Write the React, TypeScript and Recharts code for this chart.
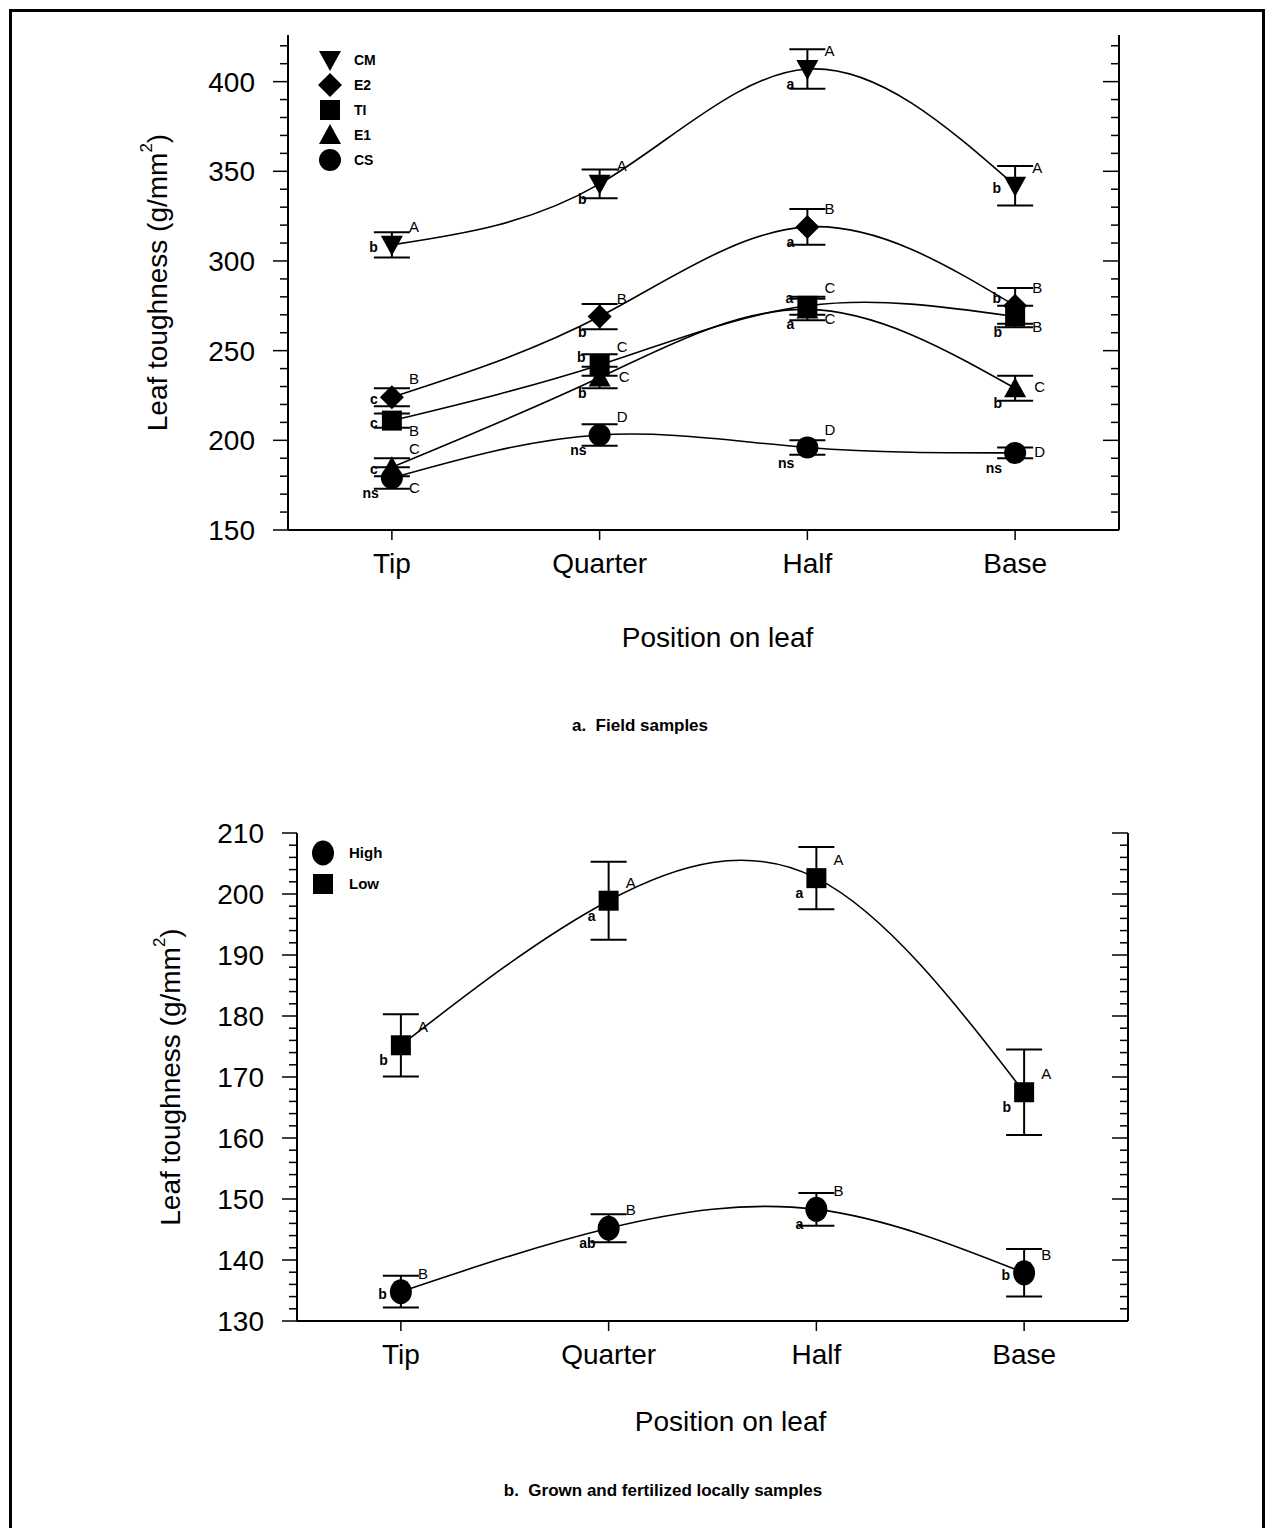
import { LineChart, Line, XAxis, YAxis, ErrorBar, Legend } from "recharts";

const positions = ["Tip", "Quarter", "Half", "Base"];

// a. field samples
const cmMean = [309, 343, 407, 342];
const cmErr = [7, 8, 11, 11];
const cmRank = ["b", "b", "a", "b"];
const cmGroup = ["A", "A", "A", "A"];

const e2Mean = [224, 269, 319, 275];
const e2Err = [5, 7, 10, 10];
const e2Rank = ["c", "b", "a", "b"];
const e2Group = ["B", "B", "B", "B"];

const tiMean = [211, 242, 275, 269];
const tiErr = [4, 6, 5, 6];
const tiRank = ["c", "b", "a", "b"];
const tiGroup = ["B", "C", "C", "B"];

const e1Mean = [185, 235, 273, 229];
const e1Err = [5, 6, 6, 7];
const e1Rank = ["c", "b", "a", "b"];
const e1Group = ["C", "C", "C", "C"];

const csMean = [179, 203, 196, 193];
const csErr = [6, 6, 4, 3];
const csRank = ["ns", "ns", "ns", "ns"];
const csGroup = ["C", "D", "D", "D"];

// b. grown and fertilized locally
const highMean = [134.8, 145.2, 148.3, 137.9];
const highErr = [2.6, 2.3, 2.7, 3.9];
const highRank = ["b", "ab", "a", "b"];
const highGroup = ["B", "B", "B", "B"];

const lowMean = [175.2, 198.9, 202.6, 167.5];
const lowErr = [5.1, 6.4, 5.1, 7];
const lowRank = ["b", "a", "a", "b"];
const lowGroup = ["A", "A", "A", "A"];

const ticksA = [150, 160, 170, 180, 190, 200, 210, 220, 230, 240, 250, 260, 270, 280, 290, 300, 310, 320, 330, 340, 350, 360, 370, 380, 390, 400, 410, 420];
const ticksB = [130, 132, 134, 136, 138, 140, 142, 144, 146, 148, 150, 152, 154, 156, 158, 160, 162, 164, 166, 168, 170, 172, 174, 176, 178, 180, 182, 184, 186, 188, 190, 192, 194, 196, 198, 200, 202, 204, 206, 208, 210];

const FONT = "'Liberation Sans', Arial, sans-serif";

// where the little letters sit around a point
const lowerOff: Record<string, [number, number]> = {
  l: [-14, 2],
  ll: [-13, 15],
  ul: [-14, -8],
};
const upperOff: Record<string, [number, number]> = {
  ur: [17, -18],
  r: [19, -1],
  lr: [17, 10],
};

type Series = {
  key: string;
  name: string;
  shape: string;
  mean: number[];
  err: number[];
  rank: string[];
  group: string[];
  rankPos: string[];
  groupPos: string[];
};

const seriesA: Series[] = [
  { key: "cm", name: "CM", shape: "down", mean: cmMean, err: cmErr, rank: cmRank, group: cmGroup,
    rankPos: ["l", "ll", "ll", "l"], groupPos: ["ur", "ur", "ur", "ur"] },
  { key: "e2", name: "E2", shape: "diamond", mean: e2Mean, err: e2Err, rank: e2Rank, group: e2Group,
    rankPos: ["l", "ll", "ll", "ul"], groupPos: ["ur", "ur", "ur", "ur"] },
  { key: "ti", name: "TI", shape: "square", mean: tiMean, err: tiErr, rank: tiRank, group: tiGroup,
    rankPos: ["l", "ul", "ul", "ll"], groupPos: ["lr", "ur", "ur", "lr"] },
  { key: "e1", name: "E1", shape: "up", mean: e1Mean, err: e1Err, rank: e1Rank, group: e1Group,
    rankPos: ["l", "ll", "ll", "ll"], groupPos: ["ur", "r", "lr", "r"] },
  { key: "cs", name: "CS", shape: "circle", mean: csMean, err: csErr, rank: csRank, group: csGroup,
    rankPos: ["ll", "ll", "ll", "ll"], groupPos: ["lr", "ur", "ur", "r"] },
];

const seriesB: Series[] = [
  { key: "high", name: "High", shape: "oval", mean: highMean, err: highErr, rank: highRank, group: highGroup,
    rankPos: ["l", "ll", "ll", "l"], groupPos: ["ur", "ur", "ur", "ur"] },
  { key: "low", name: "Low", shape: "square", mean: lowMean, err: lowErr, rank: lowRank, group: lowGroup,
    rankPos: ["ll", "ll", "ll", "ll"], groupPos: ["ur", "ur", "ur", "ur"] },
];

function buildRows(series: Series[]) {
  return positions.map((p, i) => {
    const row: Record<string, number | string> = { x: i, pos: p };
    series.forEach((s) => {
      row[s.key] = s.mean[i];
      row[s.key + "Err"] = s.err[i];
    });
    return row;
  });
}

function Marker({ shape, cx, cy }: { shape: string; cx: number; cy: number }) {
  switch (shape) {
    case "down":
      return <polygon points={`${cx - 11},${cy - 9} ${cx + 11},${cy - 9} ${cx},${cy + 11}`} fill="#000" />;
    case "up":
      return <polygon points={`${cx - 11},${cy + 9} ${cx + 11},${cy + 9} ${cx},${cy - 11}`} fill="#000" />;
    case "diamond":
      return <polygon points={`${cx},${cy - 12} ${cx + 12},${cy} ${cx},${cy + 12} ${cx - 12},${cy}`} fill="#000" />;
    case "square":
      return <rect x={cx - 10} y={cy - 10} width={20} height={20} fill="#000" />;
    case "oval":
      return <ellipse cx={cx} cy={cy} rx={11} ry={12.5} fill="#000" />;
    default:
      return <circle cx={cx} cy={cy} r={11} fill="#000" />;
  }
}

function makeDot(s: Series) {
  return (p: any) => {
    const { cx, cy, index } = p;
    if (cx == null || cy == null) return <g key={`${s.key}-${index}`} />;
    const [rdx, rdy] = lowerOff[s.rankPos[index]];
    const [gdx, gdy] = upperOff[s.groupPos[index]];
    return (
      <g key={`${s.key}-${index}`}>
        <Marker shape={s.shape} cx={cx} cy={cy} />
        <text x={cx + rdx} y={cy + rdy + 5} textAnchor="end" fontSize={14} fontWeight="bold" fontFamily={FONT} fill="#000">
          {s.rank[index]}
        </text>
        <text x={cx + gdx} y={cy + gdy + 5} textAnchor="start" fontSize={15} fontFamily={FONT} fill="#000">
          {s.group[index]}
        </text>
      </g>
    );
  };
}

function LeftTick(major: number) {
  return (p: any) => {
    const { x, y, payload } = p;
    const isMajor = payload.value % major === 0;
    return (
      <g>
        <line x1={x} x2={x - (isMajor ? 15 : 8)} y1={y} y2={y} stroke="#000" strokeWidth={1.5} />
        {isMajor && (
          <text x={x - 33} y={y + 10} textAnchor="end" fontSize={28} fontFamily={FONT} fill="#000">
            {payload.value}
          </text>
        )}
      </g>
    );
  };
}

function RightTick(major: number) {
  return (p: any) => {
    const { x, y, payload } = p;
    const isMajor = payload.value % major === 0;
    return <line x1={x} x2={x - (isMajor ? 16 : 8)} y1={y} y2={y} stroke="#000" strokeWidth={1.5} />;
  };
}

function BottomTick(p: any) {
  const { x, y, payload } = p;
  return (
    <g>
      <line x1={x} x2={x} y1={y} y2={y + 10} stroke="#000" strokeWidth={1.5} />
      <text x={x} y={y + 43} textAnchor="middle" fontSize={28} fontFamily={FONT} fill="#000">
        {positions[payload.value]}
      </text>
    </g>
  );
}

function YTitle(dx: number) {
  return (p: any) => {
    const vb = p.viewBox;
    const cx = vb.x + vb.width - dx;
    const cy = vb.y + vb.height / 2;
    return (
      <text x={cx} y={cy} transform={`rotate(-90 ${cx} ${cy})`} textAnchor="middle" dominantBaseline="central"
        fontSize={28} fontFamily={FONT} fill="#000">
        Leaf toughness (g/mm
        <tspan fontSize={17} dy={-11}>2</tspan>
        <tspan dy={11}>)</tspan>
      </text>
    );
  };
}

function XTitle(dx: number, dy: number) {
  return (p: any) => {
    const vb = p.viewBox;
    return (
      <text x={vb.x + vb.width / 2 + dx} y={vb.y + dy} textAnchor="middle" fontSize={28} fontFamily={FONT} fill="#000">
        Position on leaf
      </text>
    );
  };
}

function LegendBox({ series, gap }: { series: Series[]; gap: number }) {
  return (
    <svg width={120} height={series.length * gap + 10}>
      {series.map((s, i) => (
        <g key={s.key}>
          <Marker shape={s.shape} cx={14} cy={14 + i * gap} />
          <text x={s.name.length > 2 ? 40 : 38} y={19 + i * gap} fontSize={s.name.length > 2 ? 15 : 14} fontWeight="bold"
            fontFamily={FONT} fill="#000">
            {s.name}
          </text>
        </g>
      ))}
    </svg>
  );
}

type PanelProps = {
  series: Series[];
  top: number;
  height: number;
  margin: { top: number; right: number; bottom: number; left: number };
  domain: [number, number];
  ticks: number[];
  major: number;
  legendPos: { left: number; top: number };
  legendGap: number;
  yTitleDx: number;
  xTitle: [number, number];
};

function Panel(props: PanelProps) {
  const rows = buildRows(props.series);
  return (
    <div style={{ position: "absolute", left: 0, top: props.top }}>
      <LineChart width={1270} height={props.height} data={rows} margin={props.margin}>
        <XAxis dataKey="x" type="number" domain={[-0.5, 3.5]} ticks={[0, 1, 2, 3]} height={70}
          tickLine={false} tickSize={0} tickMargin={0} tick={BottomTick}
          axisLine={{ stroke: "#000", strokeWidth: 2 }}
          label={{ content: XTitle(props.xTitle[0], props.xTitle[1]) }} />
        <XAxis xAxisId="top" dataKey="x" type="number" domain={[-0.5, 3.5]} orientation="top" height={0}
          tick={false} tickLine={false} axisLine={{ stroke: "#000", strokeWidth: 2 }} />
        <YAxis yAxisId="l" type="number" domain={props.domain} ticks={props.ticks} interval={0} width={80}
          allowDataOverflow tickLine={false} tickSize={0} tickMargin={0} tick={LeftTick(props.major)}
          axisLine={{ stroke: "#000", strokeWidth: 2 }}
          label={{ content: YTitle(props.yTitleDx) }} />
        <YAxis yAxisId="r" orientation="right" type="number" domain={props.domain} ticks={props.ticks} interval={0}
          width={10} allowDataOverflow tickLine={false} tickSize={0} tickMargin={0} tick={RightTick(props.major)}
          axisLine={{ stroke: "#000", strokeWidth: 2 }} />
        <Legend layout="vertical" align="center" verticalAlign="middle"
          wrapperStyle={{ left: props.legendPos.left, top: props.legendPos.top, width: 120 }}
          content={() => <LegendBox series={props.series} gap={props.legendGap} />} />
        {props.series.map((s) => (
          <Line key={s.key} yAxisId="l" dataKey={s.key} name={s.name} type="natural" stroke="#000" strokeWidth={1.6}
            dot={makeDot(s)} activeDot={false} isAnimationActive={false}>
            <ErrorBar dataKey={s.key + "Err"} width={18} strokeWidth={2} stroke="#000" direction="y" />
          </Line>
        ))}
      </LineChart>
    </div>
  );
}

export default function App() {
  return (
    <div style={{ position: "absolute", left: 0, top: 0, width: 1270, height: 1528, overflow: "hidden", background: "#fff", fontFamily: FONT }}>
      <div style={{ position: "absolute", left: 9, top: 9, width: 1250, height: 1540, border: "3px solid #000" }} />
      <Panel series={seriesA} top={0} height={680}
        margin={{ top: 35, right: 141, bottom: 80, left: 208 }}
        domain={[150, 426]} ticks={ticksA} major={50}
        legendPos={{ left: 316, top: 46 }} legendGap={25}
        yTitleDx={131} xTitle={[14, 117]} />
      <Panel series={seriesB} top={780} height={680}
        margin={{ top: 53, right: 132, bottom: 69, left: 217 }}
        domain={[130, 210]} ticks={ticksB} major={10}
        legendPos={{ left: 309, top: 59 }} legendGap={31}
        yTitleDx={127} xTitle={[18, 110]} />
      <div style={{ position: "absolute", left: 0, width: 1280, top: 716, textAlign: "center", fontSize: 17, fontWeight: "bold" }}>
        a.&nbsp; Field samples
      </div>
      <div style={{ position: "absolute", left: 0, width: 1326, top: 1481, textAlign: "center", fontSize: 17, fontWeight: "bold" }}>
        b.&nbsp; Grown and fertilized locally samples
      </div>
    </div>
  );
}
